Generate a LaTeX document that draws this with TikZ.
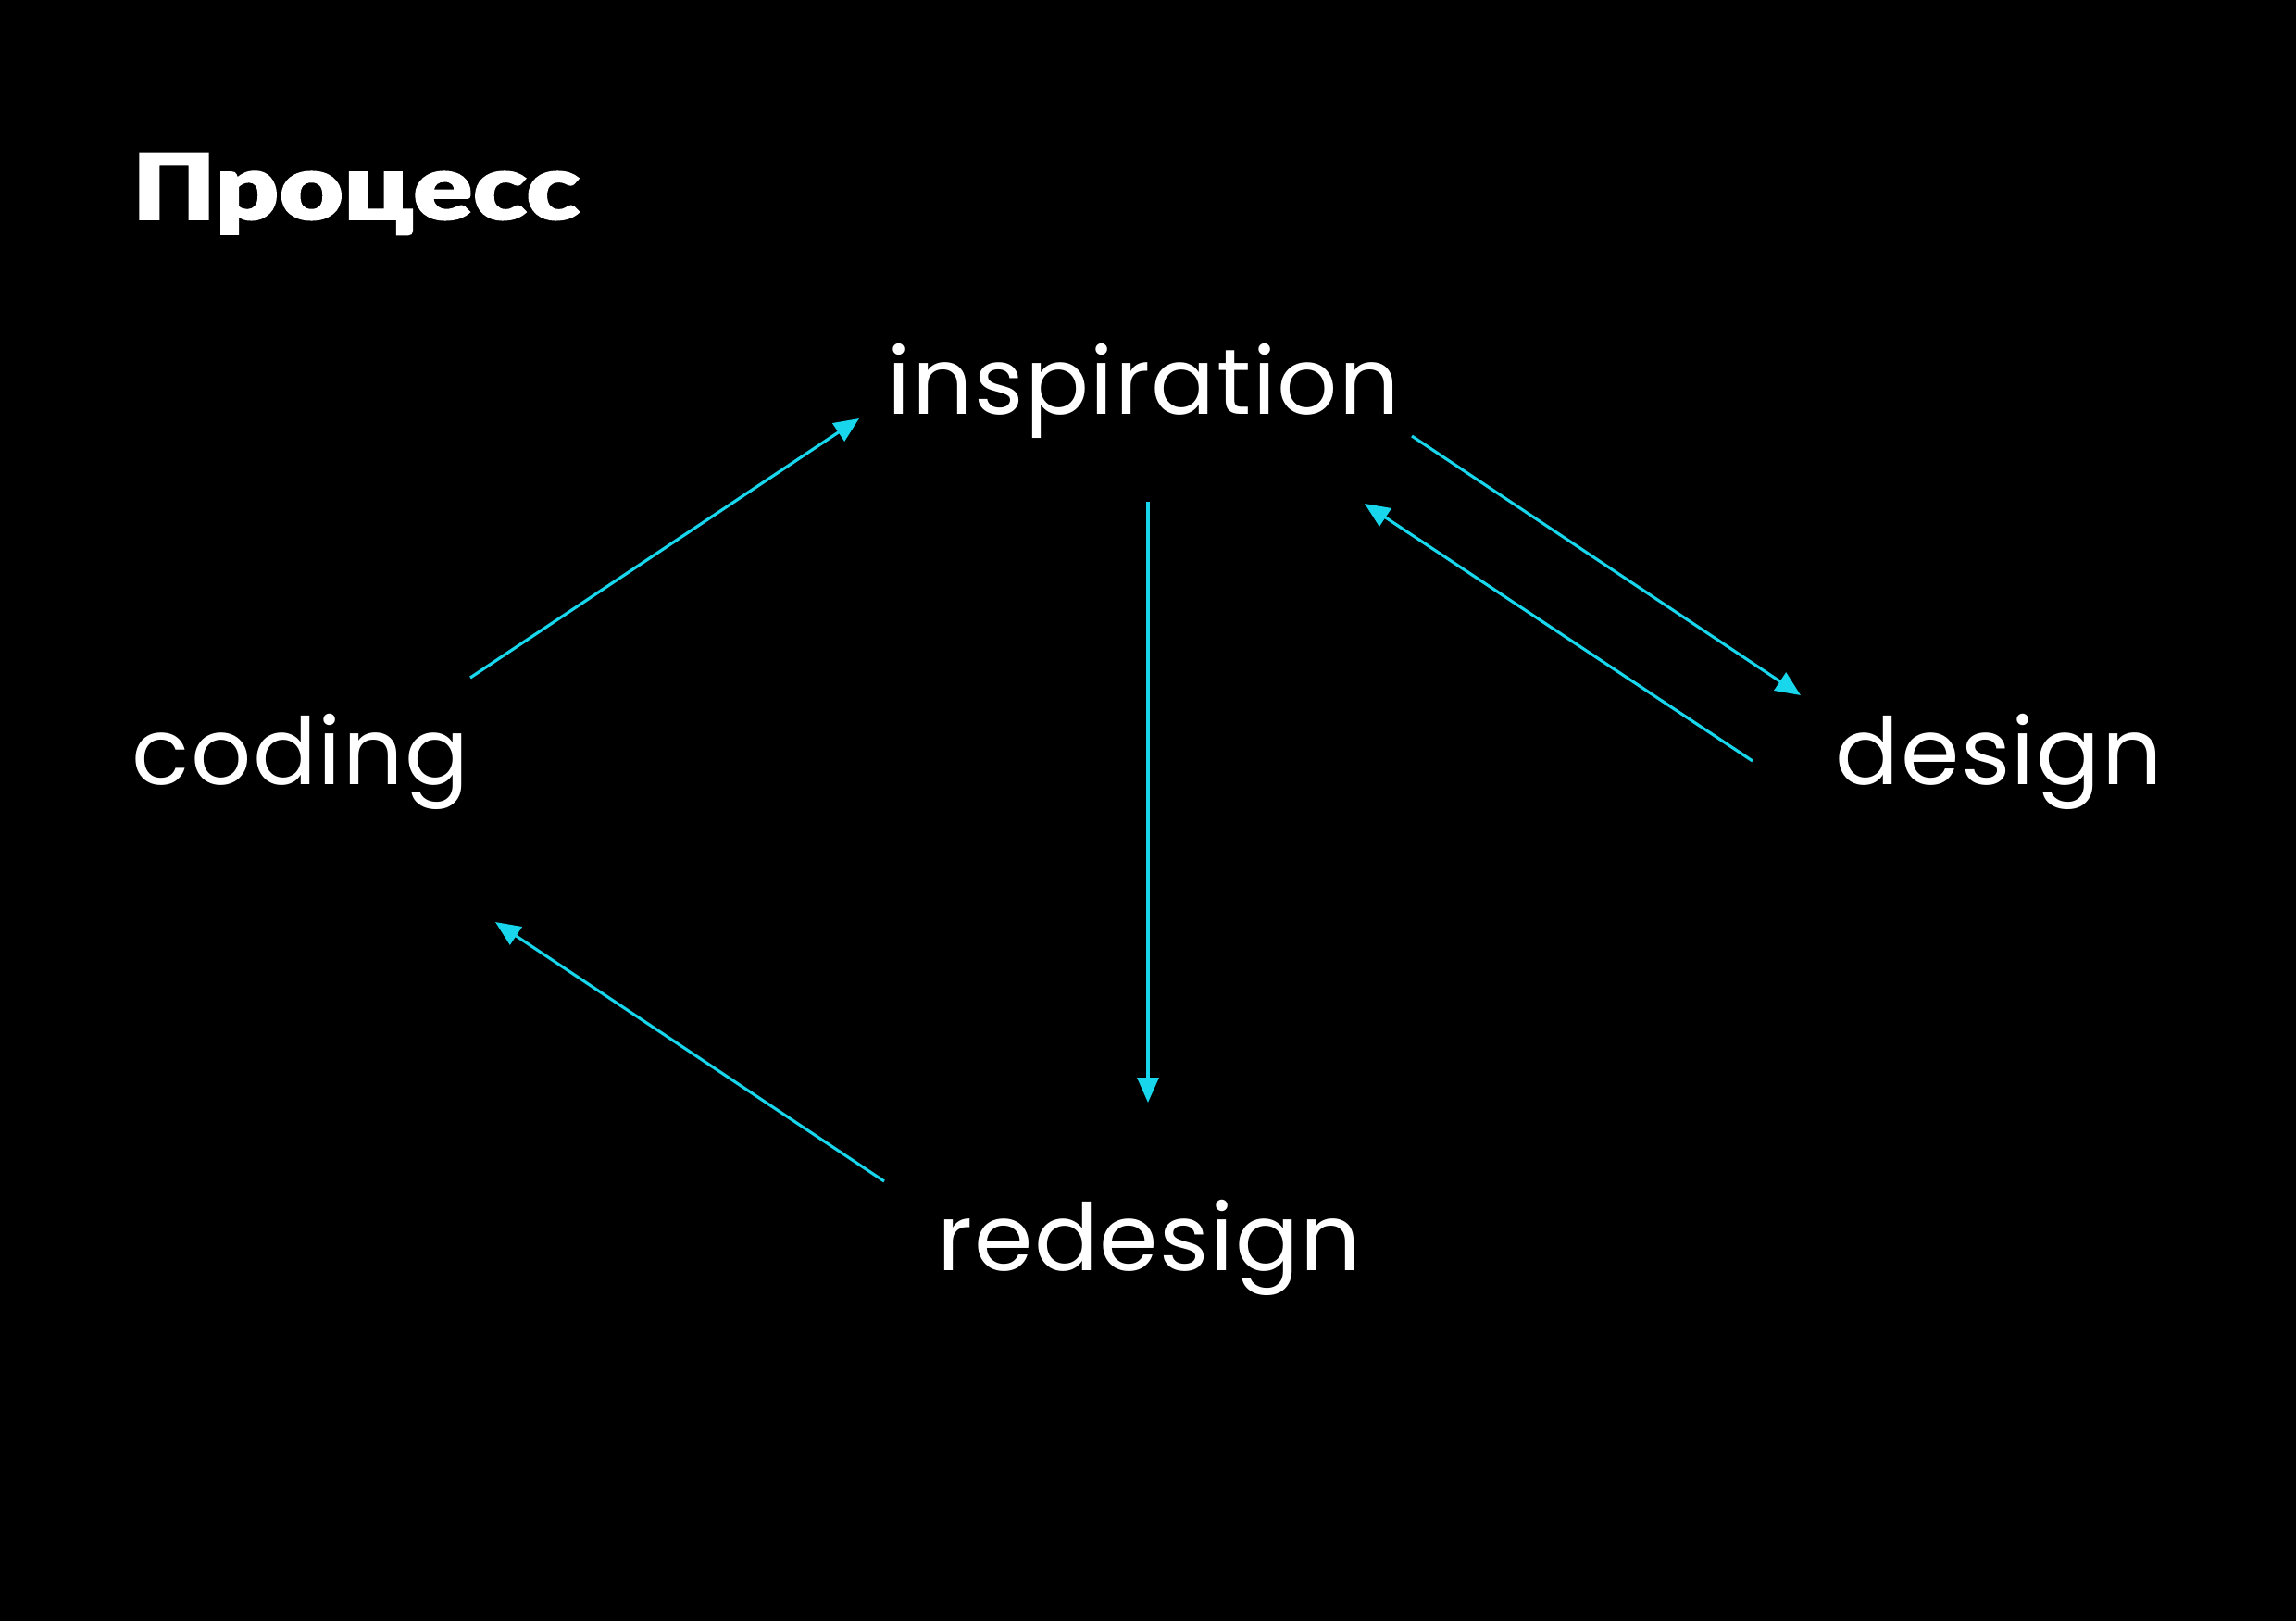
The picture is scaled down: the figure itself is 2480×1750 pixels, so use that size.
\documentclass[tikz,border=0pt]{standalone}
\usepackage{fontspec}
\setmainfont[FakeStretch=1.02,LetterSpace=1.5]{Poppins}
\newfontfamily\titlefont[FakeStretch=1.22,FakeBold=1.5]{Lato Black}
\usetikzlibrary{arrows.meta}
\definecolor{arrowcyan}{RGB}{24,214,236}
\tikzset{
  lbl/.style={text=white, font=\fontsize{28.5pt}{34pt}\selectfont, inner sep=0pt, anchor=base west},
  flow/.style={draw=arrowcyan, line width=0.9pt, -{Triangle[length=2.7mm,width=2.3mm]}}
}
\begin{document}
\begin{tikzpicture}[x=0.1mm,y=-0.1mm]
\useasboundingbox (0,0) rectangle (2480,1750);
\fill[black] (-5,-5) rectangle (2485,1755);
\node[text=white, inner sep=0pt, anchor=base west, font=\titlefont\fontsize{28pt}{34pt}\selectfont] (title) at (142,237) {Процесс};
\node[lbl] (insp) at (958,447) {inspiration};
\node[lbl] (coding) at (142,847) {coding};
\node[lbl] (design) at (1982,847) {design};
\node[lbl] (redesign) at (1012,1372) {redesign};
\coordinate (c1) at (508,732);
\coordinate (i1) at (928,452);
\coordinate (i2) at (1525,471);
\coordinate (d1) at (1945,751);
\coordinate (d2) at (1893,822);
\coordinate (i3) at (1474,544);
\coordinate (i4) at (1240,542);
\coordinate (r1) at (1240,1191);
\coordinate (r2) at (955,1276);
\coordinate (c2) at (535,996);
\draw[flow] (c1) -- (i1);
\draw[flow] (i2) -- (d1);
\draw[flow] (d2) -- (i3);
\draw[flow] (i4) -- (r1);
\draw[flow] (r2) -- (c2);
\end{tikzpicture}
\end{document}
